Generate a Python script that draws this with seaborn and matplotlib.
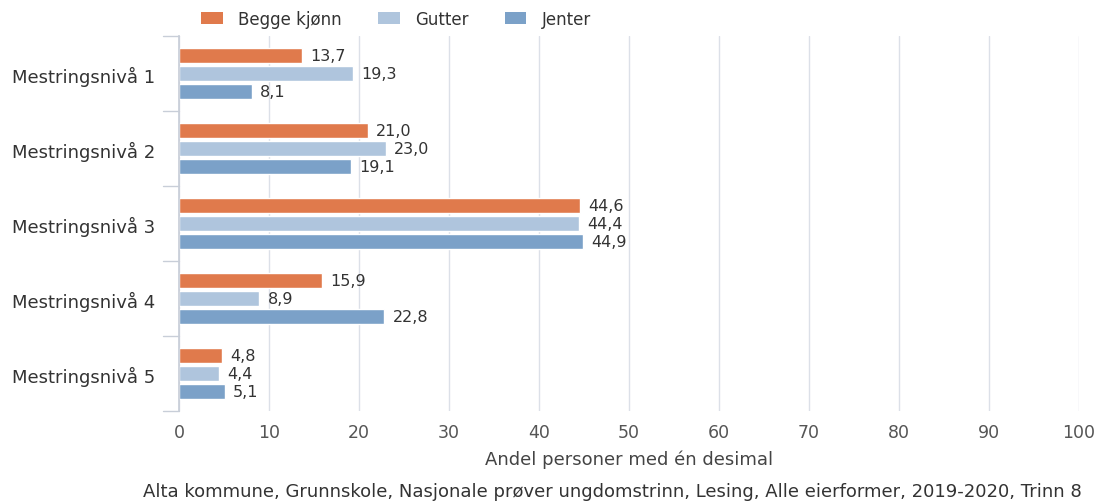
import matplotlib
import matplotlib.pyplot as plt
import pandas as pd
import seaborn as sns
from matplotlib.patches import Patch

matplotlib.use("Agg")

levels = ["Mestringsnivå 1", "Mestringsnivå 2", "Mestringsnivå 3", "Mestringsnivå 4", "Mestringsnivå 5"]
groups = ["Begge kjønn", "Gutter", "Jenter"]
begge = [13.7, 21.0, 44.6, 15.9, 4.8]
gutter = [19.3, 23.0, 44.4, 8.9, 4.4]
jenter = [8.1, 19.1, 44.9, 22.8, 5.1]
colors = ["#E07A4C", "#AFC5DD", "#7BA1C8"]
x_ticks = list(range(0, 101, 10))
caption = "Alta kommune, Grunnskole, Nasjonale prøver ungdomstrinn, Lesing, Alle eierformer, 2019-2020, Trinn 8"

df = pd.DataFrame(
    {
        "level": levels * 3,
        "group": [g for g in groups for _ in levels],
        "value": begge + gutter + jenter,
    }
)

sns.set_theme(style="white")
plt.rcParams["font.family"] = ["DejaVu Sans"]

fig = plt.figure(figsize=(10.99, 5.02), dpi=100)
ax = fig.add_axes([179 / 1099, 1 - 412 / 502, 900 / 1099, 375 / 502])
sns.barplot(
    data=df, y="level", x="value", hue="group", order=levels, hue_order=groups,
    palette=colors, saturation=1, orient="h", width=0.72, gap=0.12, legend=False, ax=ax,
)

for cont in ax.containers:
    labels = [f"{v:.1f}".replace(".", ",") for v in cont.datavalues]
    ax.bar_label(cont, labels=labels, padding=6, fontsize=11.5, color="#333333")

ax.set_xlim(0, 100)
ax.set_ylim(len(levels) - 0.5, -0.5)
ax.set_xticks(x_ticks)
ax.set_xticklabels([str(t) for t in x_ticks], color="#555555", fontsize=12.5)
ax.xaxis.grid(True, color="#DCE0E8", linewidth=1)
ax.set_axisbelow(True)
ax.set_xlabel("Andel personer med én desimal", fontsize=13, color="#444444", labelpad=6)
ax.set_ylabel("")
ax.tick_params(axis="y", length=0, pad=17, labelsize=13, labelcolor="#333333")
ax.tick_params(axis="x", length=0, pad=9)
for s in ["top", "right", "bottom"]:
    ax.spines[s].set_visible(False)
ax.spines["left"].set_color("#C8CED8")

# category separator ticks on the left
for b in range(len(levels) + 1):
    ax.plot([-1.8, 0], [b - 0.5, b - 0.5], color="#C8CED8", lw=1, clip_on=False)

handles = [Patch(facecolor=c, edgecolor="none") for c in colors]
fig.legend(
    handles, groups, loc="center left", bbox_to_anchor=(186 / 1099, 1 - 20 / 502),
    ncol=3, frameon=False, fontsize=12, handlelength=1.3, handleheight=0.75,
    columnspacing=2.2, handletextpad=0.9, labelcolor="#333333",
)

fig.text(1082 / 1099, 1 - 492 / 502, caption, ha="right", va="center", fontsize=13, color="#333333")

fig.savefig("out.png", dpi=100)
